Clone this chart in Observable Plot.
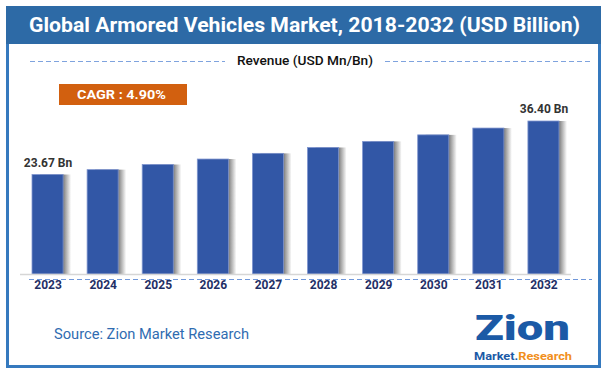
<!DOCTYPE html>
<html>
<head>
<meta charset="utf-8">
<script src="https://cdn.jsdelivr.net/npm/d3@7"></script>
<script src="https://cdn.jsdelivr.net/npm/@observablehq/plot@0.6"></script>
<style>
  html, body { margin: 0; padding: 0; background: #fff; }
  #wrap { position: relative; width: 607px; height: 376px; overflow: hidden; background: #fff; font-family: Roboto, sans-serif; }
  #wrap > svg.plot { position: absolute; left: 0; top: 0; }
</style>
</head>
<body>
<div id="wrap"></div>
<script>
// ---- data ----
const years = ["2023", "2024", "2025", "2026", "2027", "2028", "2029", "2030", "2031", "2032"];
const revenue = [23.67, 24.83, 26.05, 27.35, 28.70, 30.10, 31.55, 33.10, 34.72, 36.40];
const labelYears = ["2023", "2032"];
const labelTexts = ["23.67 Bn", "36.40 Bn"];
const titleText = "Global Armored Vehicles Market, 2018-2032 (USD Billion)";
const subtitleText = "Revenue (USD Mn/Bn)";
const cagrText = "CAGR : 4.90%";
const sourceText = "Source: Zion Market Research";

const data = years.map((year, i) => ({year, value: revenue[i]}));
const labels = labelYears.map((year, i) => ({year, value: revenue[years.indexOf(year)], label: labelTexts[i]}));

const wrap = document.getElementById("wrap");

function box(style) {
  const d = document.createElement("div");
  Object.assign(d.style, {position: "absolute", boxSizing: "border-box"}, style);
  wrap.appendChild(d);
  return d;
}

// ---- chart ----
const chart = Plot.plot({
  width: 607,
  height: 376,
  marginLeft: 20,
  marginRight: 36,
  marginTop: 100,
  marginBottom: 102,
  style: {background: "transparent", overflow: "visible"},
  x: {domain: years, paddingInner: 0.436, paddingOuter: 0.218, axis: null, round: false},
  y: {domain: [0, 36.4], range: [274, 121], axis: null},
  marks: [
    () => {
      const ns = "http://www.w3.org/2000/svg";
      const defs = document.createElementNS(ns, "defs");
      defs.innerHTML = `<linearGradient id="shd" x1="0" x2="1" y1="0" y2="0">
          <stop offset="0.70" stop-color="#5e5e5e"/>
          <stop offset="0.80" stop-color="#9a9a9a"/>
          <stop offset="1" stop-color="#ffffff"/>
        </linearGradient>`;
      return defs;
    },
    Plot.barY(data, {x: "year", y: "value", dx: 8, fill: "url(#shd)"}),
    Plot.barY(data, {x: "year", y: "value", fill: "#3257a6", stroke: "#7f95cf", strokeWidth: 0.8}),
    Plot.ruleY([0], {stroke: "#d6d6d6", strokeWidth: 1.5}),
    Plot.text(years, {x: d => d, frameAnchor: "bottom", dy: 14, fontFamily: "Roboto", fontSize: 12, fontWeight: "bold", fill: "#1f2f66"}),
    Plot.text(labels, {x: "year", y: "value", text: "label", dy: -12, fontFamily: "Roboto", fontSize: 12, fontWeight: "bold", fill: "#333333"})
  ]
});
chart.classList.add("plot");
wrap.appendChild(chart);

// frame
box({left: "6px", top: "6px", width: "595px", height: "362px", border: "3px solid #3579be"});
box({left: "6px", top: "6px", width: "595px", height: "38px", background: "#2d6aa6"});

// dashed lines
const ns = "http://www.w3.org/2000/svg";
const deco = document.createElementNS(ns, "svg");
deco.setAttribute("width", 607); deco.setAttribute("height", 376);
deco.style.position = "absolute"; deco.style.left = "0"; deco.style.top = "0";
deco.innerHTML = `
  <line x1="30" x2="225" y1="61.5" y2="61.5" stroke="#7fa3de" stroke-dasharray="5,3"/>
  <line x1="385" x2="592" y1="61.5" y2="61.5" stroke="#7fa3de" stroke-dasharray="5,3"/>
  <line x1="29" x2="592" y1="279.5" y2="279.5" stroke="#6f97da" stroke-dasharray="5,3"/>`;
wrap.appendChild(deco);

// CAGR box
box({left: "59px", top: "84px", width: "128px", height: "21px", background: "#d2600f"});

// ---- text helper ----
function label(text, o) {
  const d = document.createElement("div");
  d.textContent = text;
  Object.assign(d.style, {
    position: "absolute", whiteSpace: "nowrap", fontSize: o.size + "px", lineHeight: "1",
    fontWeight: o.weight || "normal", color: o.color, fontFamily: o.family || "Roboto",
    top: (o.cy - 0.49 * o.size) + "px", left: "0px", transformOrigin: "0 0"
  });
  wrap.appendChild(d);
  const w0 = d.getBoundingClientRect().width;
  const k = o.width ? o.width / w0 : 1;
  const w = w0 * k;
  const x = o.cx != null ? o.cx - w / 2 : o.left;
  d.style.left = x + "px";
  d.style.transform = `scaleX(${k})`;
  return d;
}

label(titleText, {cx: 304.5, cy: 25.5, size: 21, weight: "bold", color: "#ffffff", width: 551});
label(subtitleText, {cx: 305, cy: 61, size: 12.5, weight: 500, color: "#111111", width: 136});
label(cagrText, {cx: 121, cy: 94.5, size: 13, weight: "bold", color: "#ffffff", width: 89});
label(sourceText, {left: 54, cy: 334, size: 15, weight: "normal", color: "#2f6cb1", width: 195});

// logo
label("Zion", {left: 475, cy: 328, size: 35, weight: 900, color: "#1b5aa6", width: 95});
const mr = document.createElement("div");
mr.innerHTML = 'Market.<span style="color:#f18f1c">Research</span>';
Object.assign(mr.style, {position: "absolute", whiteSpace: "nowrap", fontSize: "10.5px", lineHeight: "1",
  fontWeight: "bold", color: "#1b5aa6", fontFamily: "Roboto", top: (357 - 0.49 * 10.5) + "px", left: "474px", transformOrigin: "0 0"});
wrap.appendChild(mr);
const mw = mr.getBoundingClientRect().width;
mr.style.transform = `scaleX(${98 / mw})`;
</script>
</body>
</html>
